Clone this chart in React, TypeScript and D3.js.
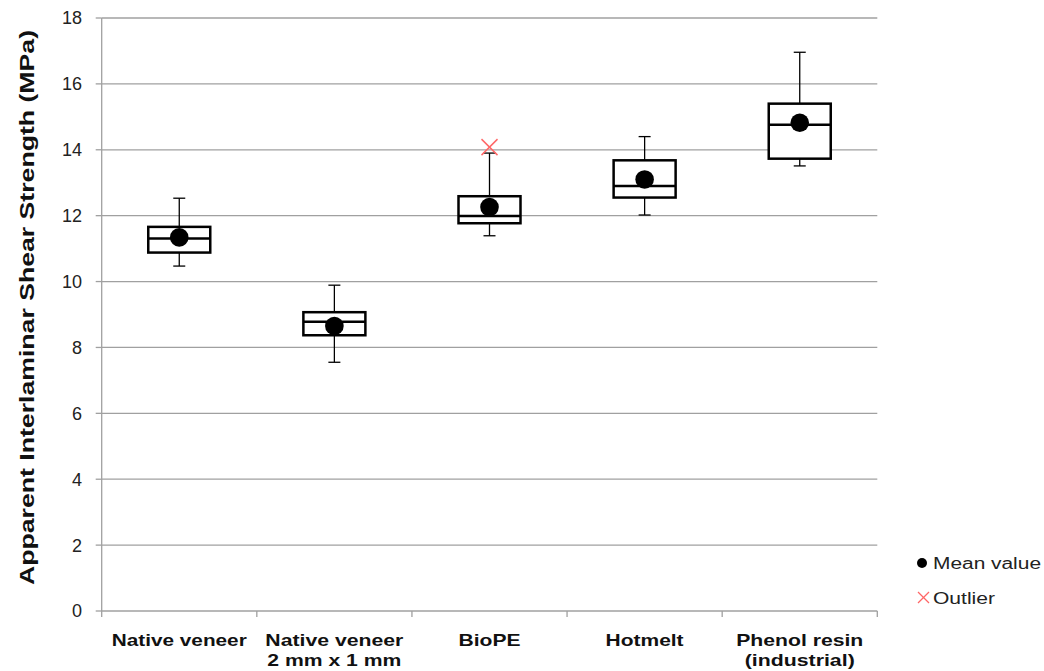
import React from "react";
import * as d3 from "d3";

const categories: string[][] = [
  ["Native veneer"],
  ["Native veneer", "2 mm x 1 mm"],
  ["BioPE"],
  ["Hotmelt"],
  ["Phenol resin", "(industrial)"],
];
const whiskerLow = [10.47, 7.55, 11.39, 12.02, 13.51];
const q1 = [10.88, 8.37, 11.77, 12.55, 13.73];
const median = [11.31, 8.78, 11.99, 12.9, 14.76];
const q3 = [11.66, 9.07, 12.59, 13.68, 15.4];
const whiskerHigh = [12.53, 9.89, 13.9, 14.4, 16.96];
const means = [11.34, 8.65, 12.26, 13.1, 14.82];
const outliers: { cat: number; value: number }[] = [{ cat: 2, value: 14.08 }];
const yTicks = [0, 2, 4, 6, 8, 10, 12, 14, 16, 18];

// rendered text widths (px) to mimic the wide typeface of the original
const labelWidths: number[][] = [[135], [138, 134], [62], [78], [127, 110]];

export default function App() {
  const W = 1044, H = 671;
  const left = 101.7, right = 877.3, top = 18, bottom = 611;
  const x = d3.scaleBand<number>().domain(categories.map((_, i) => i)).range([left, right]);
  const y = d3.scaleLinear().domain([0, 18]).range([bottom, top]);
  const boxW = 62, capW = 12;
  const font = "Liberation Sans, Arial, sans-serif";
  const grid = "#a0a0a0";
  return (
    <svg width={W} height={H} style={{ position: "absolute", left: 0, top: 0 }} fontFamily={font}>
      <rect width={W} height={H} fill="#fff" />
      {yTicks.map((t) => (
        <g key={t}>
          {t > 0 && <line x1={left} x2={right} y1={y(t)} y2={y(t)} stroke={grid} strokeWidth={1.3} />}
          <line x1={left - 6} x2={left} y1={y(t)} y2={y(t)} stroke={grid} strokeWidth={1.3} />
          <text x={82} y={y(t)} dy="0.36em" textAnchor="end" fontSize={18} fill="#222">{t}</text>
        </g>
      ))}
      <line x1={left} x2={left} y1={top} y2={bottom} stroke={grid} strokeWidth={1.3} />
      <line x1={left} x2={right} y1={bottom} y2={bottom} stroke={grid} strokeWidth={1.3} />
      {categories.map((_, i) => (
        <line key={"ct" + i} x1={x(i)!} x2={x(i)!} y1={bottom} y2={bottom + 6} stroke={grid} strokeWidth={1.3} />
      ))}
      <line x1={right} x2={right} y1={bottom} y2={bottom + 6} stroke={grid} strokeWidth={1.3} />
      {categories.map((lines, i) => {
        const cx = x(i)! + x.bandwidth() / 2;
        return (
          <g key={"b" + i}>
            <line x1={cx} x2={cx} y1={y(whiskerHigh[i])} y2={y(q3[i])} stroke="#000" strokeWidth={1.3} />
            <line x1={cx} x2={cx} y1={y(q1[i])} y2={y(whiskerLow[i])} stroke="#000" strokeWidth={1.3} />
            <line x1={cx - capW / 2} x2={cx + capW / 2} y1={y(whiskerHigh[i])} y2={y(whiskerHigh[i])} stroke="#000" strokeWidth={1.3} />
            <line x1={cx - capW / 2} x2={cx + capW / 2} y1={y(whiskerLow[i])} y2={y(whiskerLow[i])} stroke="#000" strokeWidth={1.3} />
            <rect x={cx - boxW / 2} y={y(q3[i])} width={boxW} height={y(q1[i]) - y(q3[i])} fill="#fff" stroke="#000" strokeWidth={2.5} />
            <line x1={cx - boxW / 2} x2={cx + boxW / 2} y1={y(median[i])} y2={y(median[i])} stroke="#000" strokeWidth={2.5} />
            <circle cx={cx} cy={y(means[i])} r={9.3} fill="#000" />
            {lines.map((l, k) => (
              <text key={k} x={cx} y={646 + k * 19.5} textAnchor="middle" fontSize={17} fontWeight="bold" fill="#111"
                textLength={labelWidths[i][k]} lengthAdjust="spacingAndGlyphs">{l}</text>
            ))}
          </g>
        );
      })}
      {outliers.map((o, k) => {
        const cx = x(o.cat)! + x.bandwidth() / 2;
        const cy = y(o.value);
        const s = 8;
        return (
          <g key={"o" + k} stroke="#ff6666" strokeWidth={1.5}>
            <line x1={cx - s} x2={cx + s} y1={cy - s} y2={cy + s} />
            <line x1={cx - s} x2={cx + s} y1={cy + s} y2={cy - s} />
          </g>
        );
      })}
      <text transform="translate(33.5,307.5) rotate(-90)" textAnchor="middle" fontSize={21} fontWeight="bold" fill="#111"
        textLength={555} lengthAdjust="spacingAndGlyphs">Apparent Interlaminar Shear Strength (MPa)</text>
      <circle cx={922} cy={563} r={5} fill="#000" />
      <text x={933} y={568.5} fontSize={16} fill="#222" textLength={108} lengthAdjust="spacingAndGlyphs">Mean value</text>
      <g stroke="#ff6666" strokeWidth={1.3}>
        <line x1={918} x2={929} y1={592} y2={603} />
        <line x1={918} x2={929} y1={603} y2={592} />
      </g>
      <text x={933} y={603.5} fontSize={16} fill="#222" textLength={62} lengthAdjust="spacingAndGlyphs">Outlier</text>
    </svg>
  );
}
